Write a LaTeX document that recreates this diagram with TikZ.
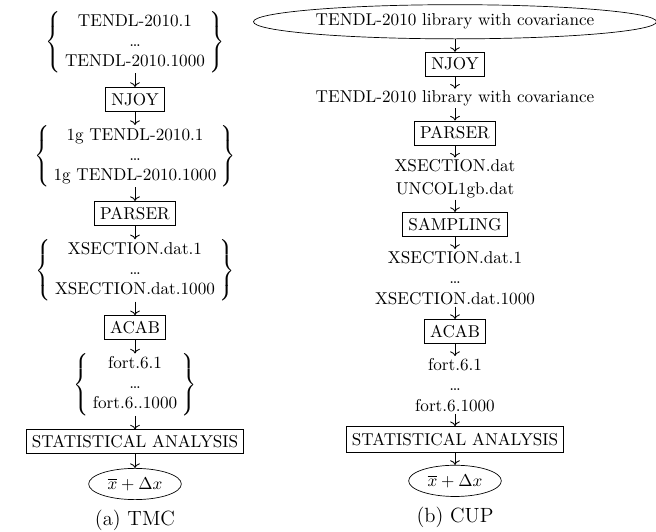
\documentclass[tikz,border=0pt]{standalone}
\usepackage{tikz}
\usetikzlibrary{matrix,arrows.meta,positioning,shapes.geometric}
\tikzset{
    procBox/.style={rectangle, draw=black, inner sep=3.3pt},
    fileGroup/.style={rectangle, inner sep=0pt},
    fileText/.style={rectangle, inner sep=1pt, align=center},
    resEll/.style={ellipse, draw=black, inner sep=0pt, minimum width=1.9cm, minimum height=0.64cm},
    libEll/.style={ellipse, draw=black, inner sep=0pt, minimum width=8.26cm, minimum height=0.7cm},
    subCap/.style={rectangle, inner sep=0pt, font=\large},
    flow/.style={->, line width=0.5pt}
}
\newcommand{\filelist}[3]{\renewcommand{\arraystretch}{0.97}%
  $\left\{\begin{tabular}{@{\hspace{2.5pt}}c@{\hspace{2.5pt}}}#1\\#2\\#3\end{tabular}\right\}$}

\begin{document}
\begin{tikzpicture}[x=0.0205cm, y=-0.0205cm]
\useasboundingbox (0,0) rectangle (656,532);

% (a) TMC
\matrix (tmc) [row sep=0.285cm, inner sep=0pt, matrix anchor=north] at (135,11) {
  \node[fileGroup] (tmcIn) {\filelist{TENDL-2010.1}{\dots}{TENDL-2010.1000}}; \\
  \node[procBox] (tmcNjoy) {NJOY}; \\
  \node[fileGroup] (tmcGroup) {\filelist{1g TENDL-2010.1}{\dots}{1g TENDL-2010.1000}}; \\
  \node[procBox] (tmcParser) {PARSER}; \\
  \node[fileGroup] (tmcXs) {\filelist{XSECTION.dat.1}{\dots}{XSECTION.dat.1000}}; \\
  \node[procBox] (tmcAcab) {ACAB}; \\
  \node[fileGroup] (tmcFort) {\filelist{fort.6.1}{\dots}{fort.6..1000}}; \\
  \node[procBox] (tmcStat) {STATISTICAL ANALYSIS}; \\
  \node[resEll] (tmcRes) {$\overline{x}+\Delta x$}; \\
};
\node[subCap, below=0.2cm of tmcRes] (tmcCap) {(a) TMC};

% (b) CUP
\matrix (cup) [row sep=0.26cm, inner sep=0pt, matrix anchor=north] at (455,4) {
  \node[libEll] (cupLib) {TENDL-2010 library with covariance}; \\
  \node[procBox] (cupNjoy) {NJOY}; \\
  \node[fileText] (cupLibG) {TENDL-2010 library with covariance}; \\
  \node[procBox] (cupParser) {PARSER}; \\
  \node[fileText] (cupXs) {XSECTION.dat\\[1pt]UNCOL1gb.dat}; \\
  \node[procBox] (cupSampling) {SAMPLING}; \\
  \node[fileText] (cupXsN) {XSECTION.dat.1\\\dots\\XSECTION.dat.1000}; \\
  \node[procBox] (cupAcab) {ACAB}; \\
  \node[fileText] (cupFort) {fort.6.1\\\dots\\fort.6.1000}; \\
  \node[procBox, minimum height=0.52cm] (cupStat) {STATISTICAL ANALYSIS}; \\
  \node[resEll] (cupRes) {$\overline{x}+\Delta x$}; \\
};
\node[subCap, below=0.2cm of cupRes] (cupCap) {(b) CUP};

% arrows
\foreach \a/\b in {tmcIn/tmcNjoy, tmcNjoy/tmcGroup, tmcGroup/tmcParser, tmcParser/tmcXs,
                   tmcXs/tmcAcab, tmcAcab/tmcFort, tmcFort/tmcStat, tmcStat/tmcRes} {
  \draw[flow] (\a) -- (\b);
}
\foreach \a/\b in {cupLib/cupNjoy, cupNjoy/cupLibG, cupLibG/cupParser, cupParser/cupXs,
                   cupXs/cupSampling, cupSampling/cupXsN, cupXsN/cupAcab, cupAcab/cupFort,
                   cupFort/cupStat, cupStat/cupRes} {
  \draw[flow] (\a) -- (\b);
}

\end{tikzpicture}
\end{document}
